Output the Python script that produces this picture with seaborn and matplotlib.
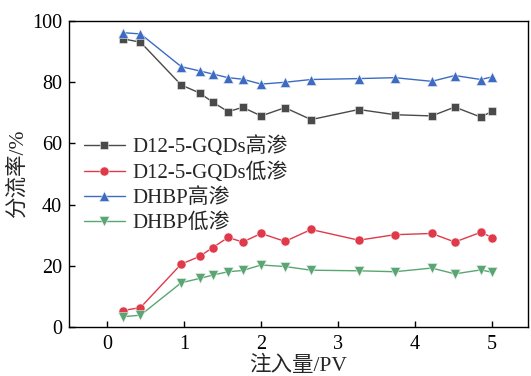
import numpy as np
import pandas as pd
import matplotlib
matplotlib.use("Agg")
import matplotlib.pyplot as plt
import seaborn as sns

x = [0.2, 0.43, 0.96, 1.2, 1.37, 1.57, 1.76, 2.0, 2.31, 2.65, 3.27, 3.74, 4.22, 4.52, 4.86, 5.01]
gqds_high = [94.2, 93.1, 79.1, 76.5, 73.5, 70.4, 71.8, 69.0, 71.7, 67.8, 71.1, 69.4, 69.0, 71.9, 68.6, 70.6]
gqds_low = [5.4, 6.4, 20.6, 23.1, 26.0, 29.3, 27.8, 30.6, 28.0, 31.9, 28.4, 30.2, 30.6, 27.8, 31.0, 29.2]
dhbp_high = [96.2, 95.8, 85.1, 83.7, 82.7, 81.5, 81.0, 79.4, 80.0, 80.9, 81.2, 81.5, 80.3, 82.2, 80.9, 81.8]
dhbp_low = [3.4, 3.9, 14.5, 15.9, 17.0, 18.1, 18.5, 20.3, 19.8, 18.6, 18.4, 18.1, 19.3, 17.4, 18.7, 17.9]
labels = ["D12-5-GQDs高渗", "D12-5-GQDs低渗", "DHBP高渗", "DHBP低渗"]
colors = ["#4a4a4a", "#e0394a", "#3d6bc4", "#5aa672"]
markers = ["s", "o", "^", "v"]
msizes = [5.2, 6.5, 7, 7]

sns.set_theme(style="ticks")
plt.rcParams['font.family'] = ['Liberation Serif', 'Noto Sans CJK SC']
plt.rcParams['axes.unicode_minus'] = False

fig = plt.figure(figsize=(5.31, 3.76), dpi=100)
ax = fig.add_axes([0.130, 0.130, 0.864, 0.814])

for ys, lab, c, m, ms in zip([gqds_high, gqds_low, dhbp_high, dhbp_low], labels, colors, markers, msizes):
    df = pd.DataFrame({"x": x, "y": ys})
    sns.lineplot(data=df, x="x", y="y", ax=ax, color=c, marker=m, markersize=ms,
                 markeredgecolor="#f0f0f0", markeredgewidth=0.4, linewidth=1.0, label=lab)

ax.set_xlim(-0.5, 5.47)
ax.set_ylim(0, 100)
ax.set_xticks([0, 1, 2, 3, 4, 5])
ax.set_yticks([0, 20, 40, 60, 80, 100])
ax.tick_params(direction="in", length=4, width=1, labelsize=14.5, colors="black", pad=5)
ax.tick_params(axis="x", pad=6)
for s in ax.spines.values():
    s.set_linewidth(1)
    s.set_color("black")
ax.set_xlabel("注入量/PV", fontsize=15.5, labelpad=1)
ax.set_ylabel("分流率/%", fontsize=15.5, labelpad=3)

leg = ax.legend(loc="upper left", bbox_to_anchor=(0.0, 0.67), frameon=False, fontsize=15,
                handlelength=2.0, handletextpad=0.35, labelspacing=0.25, borderaxespad=0.3)

fig.savefig("out.png", dpi=100)
